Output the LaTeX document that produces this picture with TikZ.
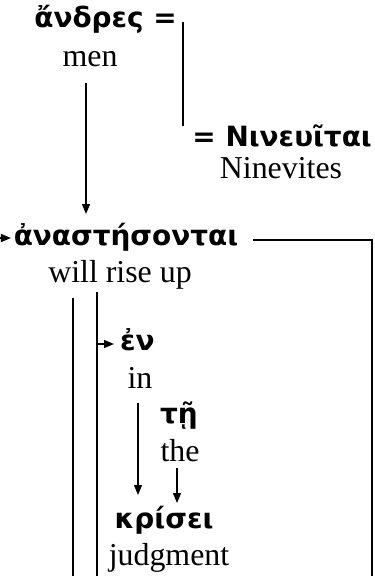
\documentclass[tikz,border=0pt]{standalone}
\usepackage{fontspec}
\setmainfont{Liberation Serif}
\newfontfamily\grk{DejaVu Sans}[BoldFont={DejaVu Sans Bold}]
\usetikzlibrary{arrows.meta}
\tikzset{
  gk/.style={inner sep=0pt, font=\grk\bfseries\fontsize{28}{30}\selectfont},
  en/.style={inner sep=0pt, font=\fontsize{32}{36}\selectfont},
  ln/.style={line width=1.3bp},
  arr/.style={line width=1.3bp, -{Triangle[width=8bp,length=10bp]}},
}
\begin{document}
\begin{tikzpicture}[x=1bp,y=-1bp]
\useasboundingbox (0,0) rectangle (374,576);
% words
\node[gk, anchor=base east] (andres) at (177,28) {ἄνδρες =};
\node[en, anchor=base] (men) at (90,67) {men};
\node[gk, anchor=base east] (nin) at (372,147) {= Νινευῖται};
\node[en, anchor=base] (ninev) at (281,178) {Ninevites};
\node[gk, anchor=base] (ana) at (126,245) {ἀναστήσονται};
\node[en, anchor=base] (will) at (120,282) {will rise up};
\node[gk, anchor=base west] (en) at (120,350) {ἐν};
\node[en, anchor=base] (in) at (140,388) {in};
\node[gk, anchor=base] (te) at (179,423) {τῇ};
\node[en, anchor=base] (the) at (180,461) {the};
\node[gk, anchor=base] (krisei) at (164,528) {κρίσει};
\node[en, anchor=base] (judg) at (169,565) {judgment};
% coordinates
\coordinate (eqtop) at (183,22);
\coordinate (eqbot) at (183,126);
\coordinate (m1) at (86,83);
\coordinate (m2) at (86,214);
\coordinate (lin) at (0,238);
\coordinate (lend) at (11,238);
\coordinate (r1) at (253,240);
\coordinate (r2) at (372,240);
\coordinate (r3) at (372,576);
\coordinate (v1a) at (73,298);
\coordinate (v1b) at (73,576);
\coordinate (v2a) at (97,292);
\coordinate (v2b) at (97,576);
\coordinate (ena) at (97,344);
\coordinate (enb) at (114,344);
\coordinate (ia) at (138,403);
\coordinate (ib) at (138,495);
\coordinate (ta) at (177,468);
\coordinate (tb) at (177,503);
% connectors
\draw[ln] (eqtop) -- (eqbot);
\draw[arr] (m1) -- (m2);
\draw[arr] (lin) -- (lend);
\draw[ln] (r1) -- (r2) -- (r3);
\draw[ln] (v1a) -- (v1b);
\draw[ln] (v2a) -- (v2b);
\draw[arr] (ena) -- (enb);
\draw[arr] (ia) -- (ib);
\draw[arr] (ta) -- (tb);
\end{tikzpicture}
\end{document}
